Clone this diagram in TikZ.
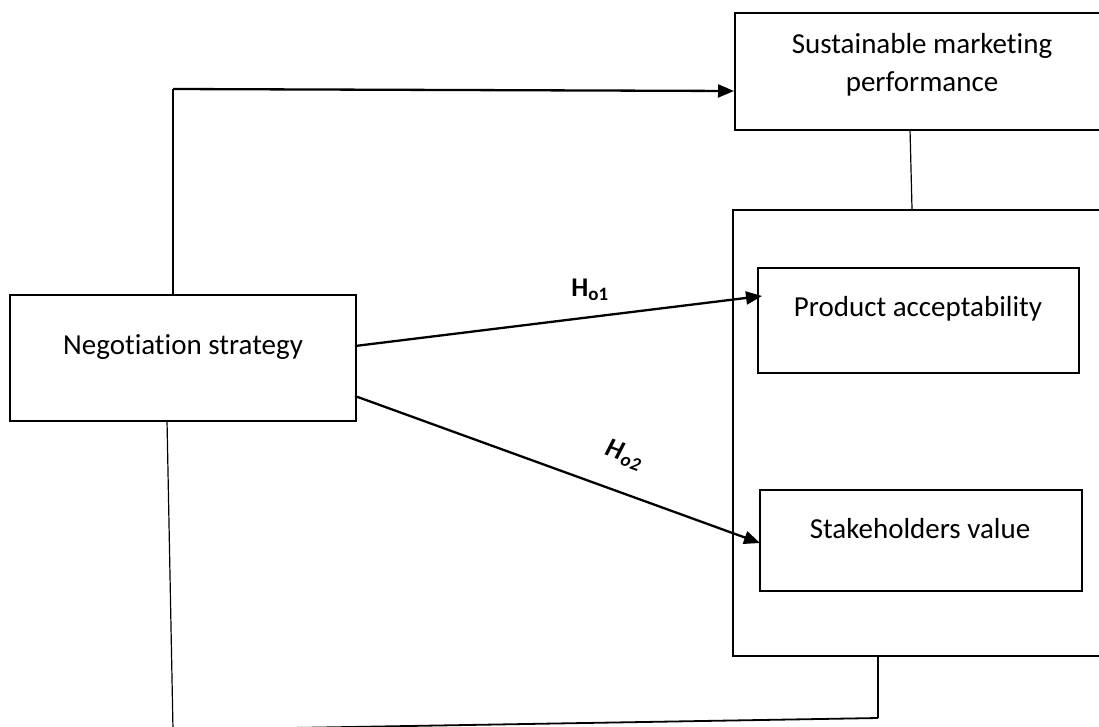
\documentclass[tikz,border=0pt]{standalone}
\usepackage{fontspec}
\setmainfont[Ligatures=NoCommon]{Carlito}
\usetikzlibrary{arrows.meta}
\begin{document}
\begin{tikzpicture}[x=1pt,y=-1pt,
  box/.style={draw,line width=2.2pt,inner sep=0pt,anchor=north west},
  txt/.style={font=\fontsize{29}{38}\selectfont,align=center,inner sep=0pt},
  thinline/.style={line width=1.2pt},
  arr/.style={line width=2.3pt,-{Triangle[length=16pt,width=13pt]}},
  hlab/.style={font=\fontsize{27}{30}\selectfont\bfseries,inner sep=0pt}]
\useasboundingbox (0,0) rectangle (1099,726);
\clip (0,0) rectangle (1099,726);
% boxes
\node[box,minimum width=346pt,minimum height=126pt] (neg) at (9,294) {};
\node[box,minimum width=380pt,minimum height=117pt] (smp) at (734,12) {};
\node[box,minimum width=380pt,minimum height=446pt] (outer) at (732,209) {};
\node[box,minimum width=321pt,minimum height=105pt] (pa) at (757,267) {};
\node[box,minimum width=322pt,minimum height=101pt] (sv) at (759,489) {};
% texts
\node[txt] (negt) at (183,347) {Negotiation strategy};
\node[txt] (smpt) at (922,65) {Sustainable marketing\\performance};
\node[txt] (pat) at (918,309) {Product acceptability};
\node[txt] (svt) at (920,529) {Stakeholders value};
% coordinates
\coordinate (n1) at (173,294);
\coordinate (c1) at (173,89);
\coordinate (s1) at (734,91);
\coordinate (h1a) at (355,346);
\coordinate (h1b) at (762,296);
\coordinate (h2a) at (355,396);
\coordinate (h2b) at (760,543);
\coordinate (sm1) at (910,129);
\coordinate (ob1) at (912,209);
\coordinate (ob2) at (878,655);
\coordinate (ob3) at (878,718);
\coordinate (n2) at (167,420);
\coordinate (c2) at (173,730);
% connectors
\draw[thinline] (n1) -- (c1);
\draw[arr] (c1) -- (s1);
\draw[arr] (h1a) -- (h1b);
\draw[arr] (h2a) -- (h2b);
\draw[thinline] (sm1) -- (ob1);
\draw[thinline] (ob2) -- (ob3);
\draw[line width=1.8pt] (ob3) -- (c2);
\draw[thinline] (n2) -- (c2);
% labels
\node[hlab] (ho1) at (590,290) {H\textsubscript{o1}};
\node[hlab,rotate=-20] (ho2) at (624,455) {\itshape H\kern1pt\textsubscript{o2}};
\end{tikzpicture}
\end{document}
